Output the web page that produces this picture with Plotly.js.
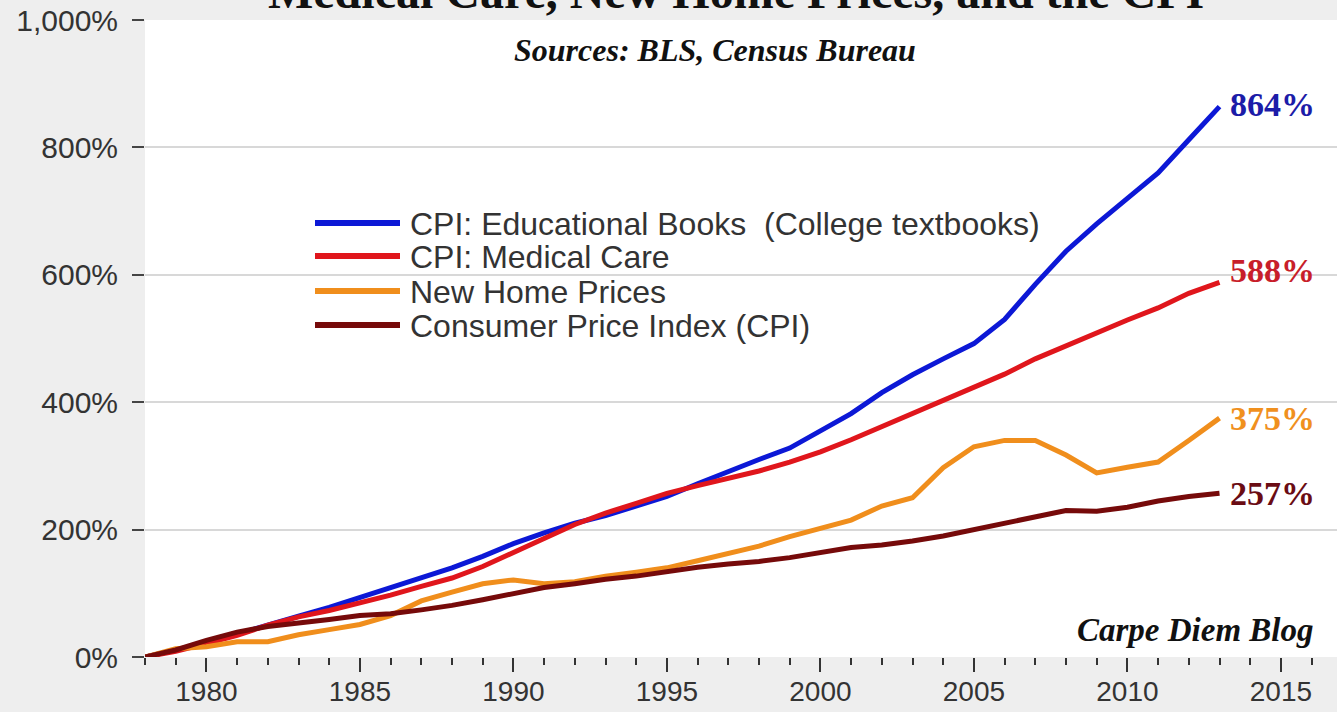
<!DOCTYPE html>
<html>
<head>
<meta charset="utf-8">
<script src="https://cdn.plot.ly/plotly-3.0.1.min.js"></script>
<style>
  html, body { margin: 0; padding: 0; background: #eeeeee; }
  #chart { width: 1337px; height: 712px; }
</style>
</head>
<body>
<div id="chart"></div>
<script>
// ---- data (cumulative % change since 1978) ----
const years = [1978,1979,1980,1981,1982,1983,1984,1985,1986,1987,1988,1989,1990,1991,1992,1993,1994,1995,1996,1997,1998,1999,2000,2001,2002,2003,2004,2005,2006,2007,2008,2009,2010,2011,2012,2013];
const eduBooks = [0,10,22,36,51,64,78,93,108,123,140,158,178,195,210,222,236,252,272,292,310,328,355,382,415,443,468,492,530,585,637,680,720,760,812,864];
const medicalCare = [0,9,21,34,50,63,73,84,97,111,124,142,163,186,208,226,241,257,269,280,292,306,322,341,362,381,402,423,444,468,489,508,529,548,571,588];
const newHomes = [0,13,16,24,24,35,43,51,65,88,102,115,121,115,118,127,133,140,151,162,174,189,203,215,237,250,297,330,340,340,317,289,298,306,340,375];
const cpi = [0,11,26,39,48,53,59,65,68,74,81,90,100,109,115,122,127,134,141,146,150,156,164,172,176,182,190,200,209,218,230,229,235,245,252,257];

const seriesNames = ["CPI: Educational Books  (College textbooks)", "CPI: Medical Care", "New Home Prices", "Consumer Price Index (CPI)"];
const seriesColors = ["#0c18d6", "#e0161c", "#f08e1c", "#760a0a"];
const labelColors = ["#1c1ca8", "#c81e2a", "#f0901e", "#6a0c14"];
const seriesData = [eduBooks, medicalCare, newHomes, cpi];

const titleText = "Medical Care, New Home Prices, and the CPI";
const sourceText = "Sources: BLS, Census Bureau";
const creditText = "Carpe Diem Blog";

// ---- layout helpers (pixel -> paper) ----
const W = 1337, H = 712, ML = 145, MR = 0, MT = 20, MB = 55;
const px = x => (x - ML) / (W - ML - MR);
const py = y => (H - MB - y) / (H - MT - MB);

const traces = seriesData.map((vals, i) => ({
  type: "scatter",
  mode: "lines",
  x: years,
  y: vals,
  name: seriesNames[i],
  line: { color: seriesColors[i], width: 5 },
  showlegend: false,
  hoverinfo: "x+y+name"
}));

const annotations = [];
const shapes = [];

// end-of-line value labels
const labelShift = [2, 12, 0, 0];
seriesData.forEach((vals, i) => {
  const last = vals[vals.length - 1];
  annotations.push({
    x: years[years.length - 1], y: last, xref: "x", yref: "y",
    text: "<b>" + last + "%</b>", showarrow: false,
    xanchor: "left", yanchor: "middle", xshift: 8, yshift: labelShift[i],
    font: { family: "Liberation Serif, serif", size: 34, color: labelColors[i] }
  });
});

// custom legend
const legendRowsY = [223, 256, 291, 325];
seriesNames.forEach((nm, i) => {
  shapes.push({
    type: "line", xref: "paper", yref: "paper",
    x0: px(315), x1: px(400), y0: py(legendRowsY[i]), y1: py(legendRowsY[i]),
    line: { color: seriesColors[i], width: 6 }
  });
  annotations.push({
    xref: "paper", yref: "paper", x: px(408), y: py(legendRowsY[i] + 1),
    text: nm, showarrow: false, xanchor: "left", yanchor: "middle",
    font: { family: "Liberation Sans, Arial, sans-serif", size: 32, color: "#333333" }
  });
});

// title (cut off at top, as in the reference)
annotations.push({
  xref: "paper", yref: "paper", x: px(736), y: 1, yanchor: "bottom", yshift: 0,
  text: "<b>" + titleText + "</b>", showarrow: false,
  font: { family: "Liberation Serif, serif", size: 48, color: "#111111" }
});
annotations.push({
  xref: "paper", yref: "paper", x: px(715), y: py(50), yanchor: "middle",
  text: "<b><i>" + sourceText + "</i></b>", showarrow: false,
  font: { family: "Liberation Serif, serif", size: 32, color: "#111111" }
});
annotations.push({
  xref: "paper", yref: "paper", x: px(1316), y: py(630), xanchor: "right", yanchor: "middle",
  text: "<b><i>" + creditText + "</i></b>", showarrow: false,
  font: { family: "Liberation Serif, serif", size: 33, color: "#111111" }
});

const layout = {
  width: W, height: H,
  margin: { l: ML, r: MR, t: MT, b: MB, pad: 0 },
  paper_bgcolor: "#eeeeee",
  plot_bgcolor: "#ffffff",
  showlegend: false,
  font: { family: "Liberation Sans, Arial, sans-serif", size: 30, color: "#333333" },
  xaxis: {
    range: [1978, 1978 + (W - ML - MR) / 30.7],
    tick0: 1980, dtick: 5,
    ticks: "outside", ticklen: 14, tickwidth: 2, tickcolor: "#333333",
    ticklabelstandoff: -5,
    minor: { tick0: 1978, dtick: 1, ticks: "outside", ticklen: 7, tickwidth: 2, tickcolor: "#333333", showgrid: false },
    showgrid: false, zeroline: false, showline: false,
    tickfont: { size: 28, color: "#333333" }
  },
  yaxis: {
    range: [0, 1000], dtick: 200,
    ticks: "outside", ticklen: 12, tickwidth: 2, tickcolor: "#444444",
    ticklabelstandoff: 8,
    tickformat: ",d", ticksuffix: "%",
    showgrid: true, gridcolor: "#d8d8d8", gridwidth: 2,
    zeroline: false, showline: false,
    tickfont: { size: 30, color: "#333333" }
  },
  shapes: shapes,
  annotations: annotations
};

Plotly.newPlot("chart", traces, layout, { displayModeBar: false, staticPlot: true });
</script>
</body>
</html>
